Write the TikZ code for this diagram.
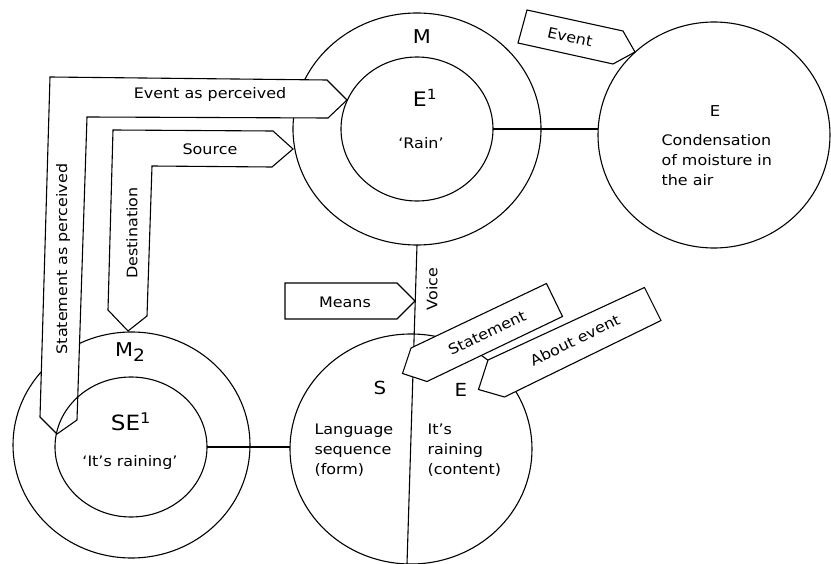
\documentclass[tikz,border=0pt]{standalone}
\usepackage{fontspec}
\setmainfont{DejaVu Sans}[FakeStretch=1.1]
\usetikzlibrary{shapes.geometric}
\begin{document}
\begin{tikzpicture}[x=1pt,y=-1pt,line width=1.1pt,line join=miter,
  ring/.style={draw, ellipse, inner sep=0pt, outer sep=0pt},
  band/.style={draw, fill=white},
  txt/.style={inner sep=0pt, font=\fontsize{14.5}{20}\selectfont},
  big/.style={inner sep=0pt, font=\fontsize{19}{22}\selectfont},
  multi/.style={txt, align=left, anchor=west}]
\useasboundingbox (0,0) rectangle (831,564);

% circles
\node[ring, minimum width=248pt, minimum height=232pt] (m) at (417,129) {};
\node[ring, minimum width=152pt, minimum height=144pt] (e1) at (417,129) {};
\node[ring, minimum width=232pt, minimum height=226pt] (ev) at (714,135) {};
\node[ring, minimum width=237pt, minimum height=226pt] (m2) at (131.5,445) {};
\node[ring, minimum width=242pt, minimum height=230pt] (s) at (411,449) {};

% connectors
\coordinate (vbot) at (407,564);
\draw (e1.east) -- (e1.east -| ev.west);
\draw (m.south) -- (vbot);

% L-shaped bands
\draw[band] (40,417) -- (50,77) -- (327,80) -- (347,100) -- (328,118)
  -- (87,117) -- (77,420) -- (57,434) -- cycle;
\draw[band] (108,310) -- (113,130) -- (273,131) -- (293,149) -- (272,167)
  -- (152,166) -- (147,316) -- (128,331) -- cycle;

\node[ring, minimum width=152pt, minimum height=140pt] (se1) at (131,447) {};
\draw (se1.east) -- (se1.east -| s.west);

% tags
\draw[band] (285,283) -- (397,283) -- (415,301) -- (397,319) -- (285,319) -- cycle;
\draw[band] (411,348) -- (546.5,283.5) -- (562.5,316.5) -- (427,381.5) -- (402.5,373.5) -- cycle;
\draw[band] (488,360) -- (644.5,287.5) -- (661,320.5) -- (504.5,397) -- (478.5,389.5) -- cycle;
\draw[band] (527,10) -- (623,31) -- (635,52) -- (613,64) -- (518,43) -- cycle;

% texts
\node[txt] (tevp) at (210,95) {Event as perceived};
\node[txt] (tsrc) at (210,149) {Source};
\node[txt, rotate=90] (tsap) at (63,259) {Statement as perceived};
\node[txt, rotate=90] (tdst) at (132,233) {Destination};
\node[txt] (tmeans) at (345,302) {Means};
\node[txt, rotate=90] (tvoice) at (432,289) {Voice};
\node[txt, rotate=-12.5] (tevent) at (570,37) {Event};
\node[txt, rotate=25.5] (tstmt) at (487,333) {Statement};
\node[txt, rotate=26] (tabout) at (575,340) {About event};

\node[big] (lm) at (422,37) {M};
\node[big, font=\fontsize{20}{22}\selectfont] (le1) at (425,98) {E\textsuperscript{1}};
\node[txt] (lrain) at (421,143) {`Rain'};
\node[txt, font=\fontsize{15}{18}\selectfont] (lev) at (715,111) {E};
\node[multi] (lcond) at (661,160) {Condensation\\of moisture in\\the air};

\node[big] (lm2) at (130,352) {M\raisebox{-5pt}{\fontsize{17}{17}\selectfont 2}};
\node[big, font=\fontsize{21}{22}\selectfont] (lse1) at (131,422) {SE\textsuperscript{1}};
\node[txt] (lraining) at (130,462) {`It's raining'};

\node[big, font=\fontsize{18}{20}\selectfont] (ls) at (380,388) {S};
\node[big, font=\fontsize{18}{20}\selectfont] (lse) at (461,390) {E};
\node[multi] (llang) at (314,450) {Language\\sequence\\(form)};
\node[multi] (lits) at (427,450) {It's\\raining\\(content)};
\end{tikzpicture}
\end{document}
